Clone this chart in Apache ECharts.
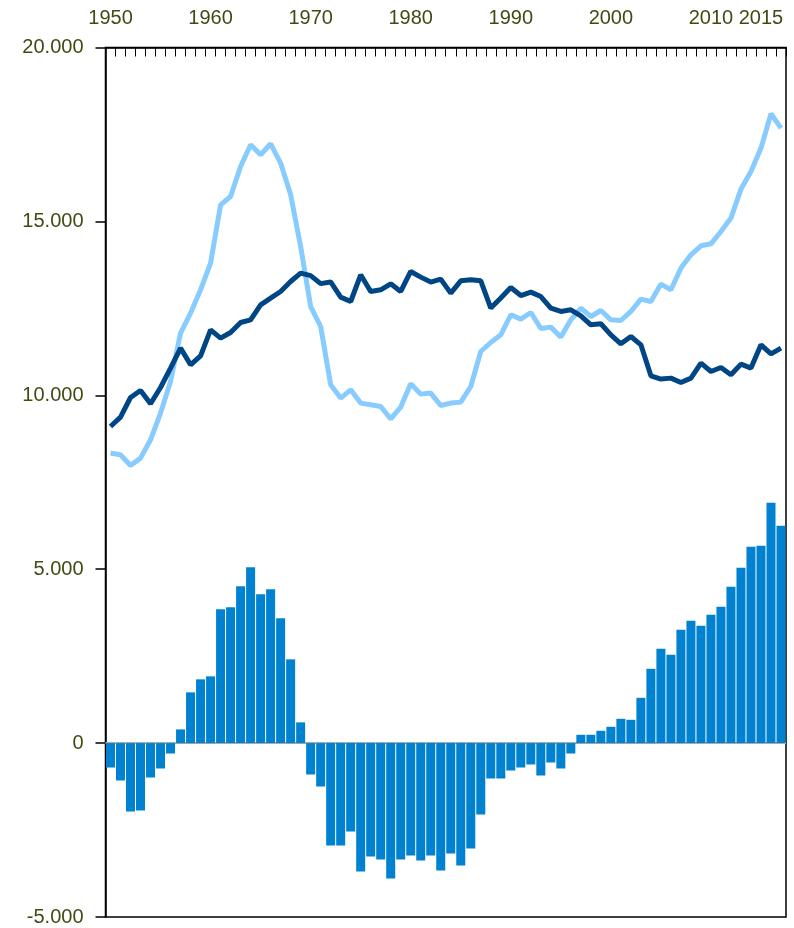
<!DOCTYPE html>
<html>
<head>
<meta charset="utf-8">
<script src="https://cdn.jsdelivr.net/npm/echarts@6/dist/echarts.min.js"></script>
<style>
html,body{margin:0;padding:0;background:#fff;}
#chart{width:794px;height:928px;}
</style>
</head>
<body>
<div id="chart"></div>
<script>
const years = [];
for (let y = 1950; y <= 2017; y++) years.push(String(y));

const tickLabels = ['1950','1960','1970','1980','1990','2000','2010','2015'];

const darkSeries = [
  9103, 9373, 9937, 10138, 9756, 10224, 10782, 11357, 10877, 11136,
  11883, 11645, 11806, 12093, 12171, 12602, 12795, 12985, 13272, 13513,
  13440, 13210, 13260, 12823, 12697, 13465, 12985, 13033, 13206, 12985,
  13560, 13398, 13255, 13341, 12938, 13292, 13321, 13292, 12507, 12795,
  13099, 12869, 12967, 12840, 12507, 12410, 12458, 12286, 12027, 12056,
  11739, 11481, 11691, 11452, 10561, 10466, 10494, 10368, 10494, 10926,
  10684, 10799, 10589, 10897, 10782, 11452, 11193, 11357
];

const lightSeries = [
  8338, 8289, 7982, 8194, 8720, 9488, 10397, 11788, 12363, 13033,
  13801, 15477, 15716, 16578, 17202, 16915, 17231, 16676, 15765, 14278,
  12553, 11978, 10302, 9919, 10158, 9776, 9727, 9678, 9324, 9661,
  10331, 10034, 10063, 9707, 9776, 9804, 10253, 11259, 11518, 11739,
  12314, 12191, 12381, 11920, 11960, 11673, 12171, 12507, 12266, 12438,
  12171, 12151, 12410, 12766, 12697, 13197, 13033, 13657, 14040, 14298,
  14356, 14710, 15095, 15929, 16435, 17108, 18094, 17683
];

const barSeries = [
  -702, -1075, -1967, -1938, -989, -730, -299, 394, 1459, 1833,
  1919, 3846, 3904, 4508, 5055, 4278, 4422, 3587, 2408, 596,
  -903, -1248, -2944, -2944, -2542, -3692, -3261, -3347, -3893, -3347,
  -3232, -3376, -3232, -3663, -3174, -3519, -3030, -2053, -1018, -1018,
  -788, -702, -615, -932, -558, -730, -299, 239, 239, 354,
  469, 699, 670, 1302, 2136, 2711, 2539, 3257, 3516, 3372,
  3689, 3919, 4494, 5040, 5644, 5673, 6909, 6248
];

const labelColor = '#3f4b12';
const fontFam = '"Liberation Sans", Arial, sans-serif';

function fmt(v) {
  if (v === 0) return '0';
  const s = String(Math.abs(v));
  const out = s.length > 3 ? s.slice(0, s.length - 3) + '.' + s.slice(s.length - 3) : s;
  return (v < 0 ? '-' : '') + out;
}

const chart = echarts.init(document.getElementById('chart'), null, {renderer: 'canvas'});
chart.setOption({
  animation: false,
  backgroundColor: '#fff',
  grid: {
    left: 105.5, right: 8, top: 47.5, bottom: 11,
    show: true, borderColor: '#000', borderWidth: 1.5, backgroundColor: 'transparent'
  },
  xAxis: {
    type: 'category',
    position: 'top',
    data: years,
    boundaryGap: true,
    axisLine: {show: true, onZero: false, lineStyle: {color: '#000', width: 1.5}},
    axisTick: {show: true, inside: true, length: 9, interval: 0, alignWithLabel: false, lineStyle: {color: '#000', width: 1}},
    axisLabel: {
      interval: function (i, v) { return tickLabels.indexOf(v) >= 0; },
      color: labelColor, fontSize: 20, fontFamily: fontFam, margin: 19
    },
    splitLine: {show: false}
  },
  yAxis: {
    type: 'value',
    min: -5000, max: 20000, interval: 5000,
    axisLine: {show: true, lineStyle: {color: '#000', width: 1.5}},
    axisTick: {show: true, inside: false, length: 10, lineStyle: {color: '#000', width: 1.5}},
    axisLabel: {formatter: fmt, color: labelColor, fontSize: 20, fontFamily: fontFam, margin: 22},
    splitLine: {show: false}
  },
  series: [
    {
      type: 'bar',
      data: barSeries,
      barCategoryGap: '10%',
      itemStyle: {color: '#0082d1'},
      z: 2,
      markLine: {
        silent: true,
        symbol: 'none',
        label: {show: false},
        lineStyle: {color: '#aaaaaa', width: 2, type: 'solid'},
        data: [{yAxis: 0}],
        z: 1
      }
    },
    {
      type: 'line',
      data: lightSeries,
      symbol: 'none',
      lineStyle: {color: '#88cbff', width: 5},
      z: 3
    },
    {
      type: 'line',
      data: darkSeries,
      symbol: 'none',
      lineStyle: {color: '#004584', width: 5},
      z: 4
    }
  ]
});
</script>
</body>
</html>
